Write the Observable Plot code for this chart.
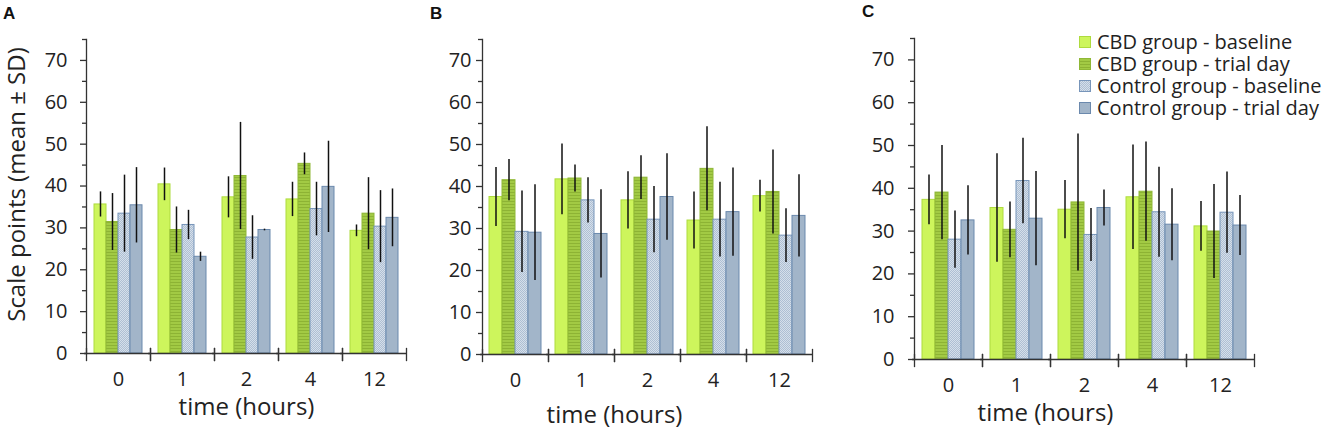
<!DOCTYPE html>
<html><head><meta charset="utf-8">
<script src="https://cdn.jsdelivr.net/npm/d3@7"></script>
<script src="https://cdn.jsdelivr.net/npm/@observablehq/plot@0.6"></script>
<style>
body{margin:0;background:#fff;font-family:"Open Sans",sans-serif;}
#wrap{position:relative;width:1325px;height:430px;overflow:hidden;background:#fff;}
.panel{position:absolute;top:0;}
.letter{position:absolute;font:bold 17px "Liberation Sans",Arial,sans-serif;color:#111;line-height:17px;}
.legend{position:absolute;left:1079px;top:31px;font-size:20px;color:#222;font-family:"Open Sans",sans-serif;}
.legend div{height:22px;line-height:20px;display:flex;align-items:center;white-space:nowrap;overflow:visible;}
.legend span{display:inline-block;line-height:20px;height:20px;}
.legend svg{margin-right:6px;}
</style></head>
<body>
<div id="wrap"></div>
<script>
const times = ["0", "1", "2", "4", "12"];
const series = ["CBD group - baseline", "CBD group - trial day", "Control group - baseline", "Control group - trial day"];
const yTicks = [0, 10, 20, 30, 40, 50, 60, 70];
const yMinorTicks = [5, 15, 25, 35, 45, 55, 65, 75];
const panelLetters = ["A", "B", "C"];
const xLabel = "time (hours)";
const yLabel = "Scale points (mean ± SD)";

// means per series (rows) across times (columns)
const meanA = [
  [35.6, 40.4, 37.3, 36.8, 29.3],
  [31.4, 29.5, 42.4, 45.3, 33.4],
  [33.4, 30.7, 27.7, 34.5, 30.3],
  [35.4, 23.1, 29.5, 39.8, 32.4]
];
const sdA = [
  [3.0, 3.9, 4.9, 4.1, 1.4],
  [6.8, 5.5, 12.8, 2.6, 8.6],
  [9.2, 3.5, 5.2, 6.4, 8.6],
  [9.0, 1.1, 0.2, 10.9, 6.9]
];
const meanB = [
  [37.5, 41.7, 36.7, 31.9, 37.7],
  [41.5, 41.9, 42.1, 44.2, 38.7],
  [29.2, 36.7, 32.1, 32.1, 28.3],
  [29.0, 28.7, 37.5, 33.9, 33.0]
];
const sdB = [
  [7.0, 8.4, 6.8, 6.8, 3.8],
  [4.9, 3.2, 5.2, 10.0, 10.0],
  [9.7, 5.4, 7.9, 8.9, 6.4],
  [11.4, 10.5, 10.3, 10.5, 9.8]
];
const meanC = [
  [37.3, 35.4, 35.0, 37.9, 31.1],
  [39.0, 30.3, 36.7, 39.2, 29.9],
  [28.0, 41.7, 29.1, 34.4, 34.3],
  [32.5, 32.9, 35.4, 31.5, 31.3]
];
const sdC = [
  [5.8, 12.7, 6.8, 12.2, 5.8],
  [11.0, 6.5, 16.0, 11.6, 11.0],
  [6.7, 10.0, 6.2, 10.5, 9.5],
  [8.1, 11.0, 4.2, 8.4, 7.0]
];

const fills = ["#cdf55c", "url(#stripes)", "url(#dots)", "#a2b5c9"];
const strokes = ["#aedb3e", "#8fb836", "#7795ba", "#6b89ad"];
const axisColor = "#333";

function defsMark() {
  const d = d3.create("svg:defs");
  const p1 = d.append("pattern").attr("id", "stripes").attr("patternUnits", "userSpaceOnUse").attr("width", 4).attr("height", 3);
  p1.append("rect").attr("width", 4).attr("height", 3).attr("fill", "#a2ca44");
  p1.append("rect").attr("width", 4).attr("height", 1).attr("fill", "#8db334");
  const p2 = d.append("pattern").attr("id", "dots").attr("patternUnits", "userSpaceOnUse").attr("width", 2).attr("height", 2);
  p2.append("rect").attr("width", 2).attr("height", 2).attr("fill", "#d5dfea");
  p2.append("rect").attr("width", 1).attr("height", 1).attr("fill", "#aebfd3");
  p2.append("rect").attr("x", 1).attr("y", 1).attr("width", 1).attr("height", 1).attr("fill", "#aebfd3");
  return d.node();
}

const panels = [
  {mean: meanA, sd: sdA, left: 0, width: 420, ml: 85, mr: 13, mt: 39, mb: 77, tp: 13, yl: true, lx: 0, ly: 54},
  {mean: meanB, sd: sdB, left: 430, width: 400, ml: 50, mr: 17, mt: 39, mb: 76, tp: 5, yl: false, lx: -33, ly: 61},
  {mean: meanC, sd: sdC, left: 860, width: 465, ml: 53, mr: 70, mt: 38, mb: 71, tp: 14, yl: false, lx: -39, ly: 54}
];

const wrap = document.getElementById("wrap");
const H = 430;

panels.forEach((p, pi) => {
  const rows = [];
  series.forEach((s, si) => times.forEach((t, ti) => rows.push({time: t, series: s, si, mean: p.mean[si][ti], sd: p.sd[si][ti]})));
  const innerH = H - p.mt - p.mb;
  const marks = [
    defsMark,
    ...series.map((s, si) => Plot.barY(rows.filter(r => r.si === si), {
      fx: "time", x: "series", y: "mean", fill: fills[si], stroke: strokes[si], strokeWidth: 1
    })),
    Plot.ruleX(rows, {fx: "time", x: "series", y1: d => d.mean - d.sd, y2: d => d.mean + d.sd, stroke: "#111", strokeWidth: 1.5}),
    Plot.ruleY([0], {stroke: axisColor, strokeWidth: 1.3, insetLeft: -2}),
    Plot.frame({anchor: "left", insetTop: innerH - 5, insetBottom: -7, stroke: axisColor, strokeWidth: 1.3}),
    Plot.frame({anchor: "right", insetTop: innerH - 5, insetBottom: -7, stroke: axisColor, strokeWidth: 1.3}),
    Plot.frame({anchor: "left", facetAnchor: "left", stroke: axisColor, strokeWidth: 1.3}),
    Plot.axisY({ticks: yTicks, tickSize: 6, tickPadding: p.tp, fontSize: 20, label: null, stroke: axisColor, strokeWidth: 1.3, fill: "#222"}),
    Plot.axisY({ticks: yMinorTicks, tickSize: 4, text: null, label: null, stroke: axisColor, strokeWidth: 1.3}),
    Plot.axisFx({anchor: "bottom", tickSize: 0, tickPadding: 18, fontSize: 20, label: null, fill: "#222"}),
    Plot.text([xLabel], {frameAnchor: "bottom", facet: "super", dy: p.ly, dx: p.lx, fontSize: 24, fill: "#222", lineAnchor: "middle", textAnchor: "middle"})
  ];
  if (p.yl) {
    marks.push(Plot.text([yLabel], {frameAnchor: "left", facet: "super", rotate: -90, dx: -69, dy: -12, fontSize: 24, fill: "#222", lineAnchor: "middle", textAnchor: "middle"}));
  }
  const chart = Plot.plot({
    width: p.width, height: H,
    marginLeft: p.ml, marginRight: p.mr, marginTop: p.mt, marginBottom: p.mb,
    style: {fontFamily: "Open Sans, sans-serif", background: "transparent", overflow: "visible"},
    fx: {domain: times, padding: 0, axis: null, label: null},
    x: {domain: series, paddingInner: 0, paddingOuter: 0.47, axis: null, label: null},
    y: {domain: [0, 75], axis: null},
    marks
  });
  const div = document.createElement("div");
  div.className = "panel";
  div.style.left = p.left + "px";
  div.appendChild(chart);
  wrap.appendChild(div);

  const L = document.createElement("div");
  L.className = "letter";
  L.textContent = panelLetters[pi];
  L.style.left = [3, 430, 862][pi] + "px";
  L.style.top = [5, 5, 3][pi] + "px";
  wrap.appendChild(L);
});

const legend = document.createElement("div");
legend.className = "legend";
series.forEach((s, si) => {
  const row = document.createElement("div");
  row.innerHTML = `<svg width="12" height="12"><rect x="0.5" y="0.5" width="11" height="11" fill="${fills[si]}" stroke="${strokes[si]}"/></svg><span>${s}</span>`;
  legend.appendChild(row);
});
wrap.appendChild(legend);
</script>
</body></html>
